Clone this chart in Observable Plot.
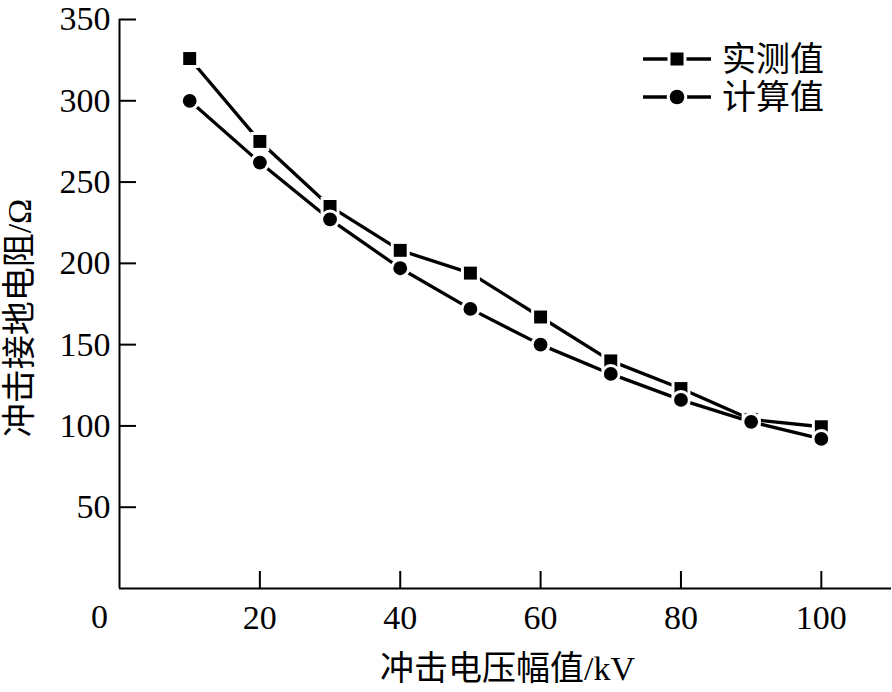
<!DOCTYPE html>
<html>
<head>
<meta charset="utf-8">
<script src="https://cdn.jsdelivr.net/npm/d3@7"></script>
<script src="https://cdn.jsdelivr.net/npm/@observablehq/plot@0.6"></script>
<style>
  html, body { margin: 0; padding: 0; background: #fff; }
  #wrap { position: relative; width: 892px; height: 692px; }
  #legend { position: absolute; left: 0; top: 0; }
</style>
</head>
<body>
<div id="wrap"><div id="chart"></div><svg id="legend" width="892" height="140"></svg></div>
<script>
const voltages = [10, 20, 30, 40, 50, 60, 70, 80, 90, 100];
const measured = [326, 275, 235, 208, 194, 167, 140, 123, 104, 99.5];
const calculated = [300, 262, 227, 197, 172, 150, 132, 116, 102.5, 92];
const seriesNames = ["实测值", "计算值"];
const xTicks = [20, 40, 60, 80, 100];
const yTicks = [50, 100, 150, 200, 250, 300, 350];
const xTitle = "冲击电压幅值/kV";
const yTitle = "冲击接地电阻/Ω";

const measuredData = voltages.map((v, i) => ({x: v, y: measured[i]}));
const calculatedData = voltages.map((v, i) => ({x: v, y: calculated[i]}));

const FONT = "'Liberation Serif', 'Noto Sans CJK SC', serif";

const chart = Plot.plot({
  width: 892,
  height: 692,
  marginLeft: 119,
  marginRight: 1,
  marginTop: 19,
  marginBottom: 104,
  style: {fontFamily: FONT, fontSize: "34px", color: "#000", background: "#fff"},
  x: {domain: [0, 110], label: null},
  y: {domain: [0, 350], label: null},
  marks: [
    Plot.ruleX([0], {strokeWidth: 2}),
    Plot.ruleY([0], {strokeWidth: 2}),
    Plot.ruleX(xTicks, {insetTop: 552, strokeWidth: 2}),
    Plot.ruleY(yTicks, {insetRight: 755, strokeWidth: 2}),
    Plot.axisX({ticks: xTicks, tickSize: 0, tickPadding: 16, label: null, fontSize: 34}),
    Plot.axisY({ticks: yTicks, tickSize: 0, tickPadding: 9, label: null, fontSize: 34}),
    Plot.text(["0"], {x: 0, y: 0, text: d => d, dx: -20, dy: 29, fontSize: 34}),
    Plot.text([xTitle], {frameAnchor: "bottom", text: d => d, textAnchor: "middle", lineAnchor: "middle", dx: 2, dy: 81, fontSize: 34}),
    Plot.text([yTitle], {frameAnchor: "left", text: d => d, textAnchor: "middle", lineAnchor: "middle", rotate: -90, dx: -99, dy: 14, fontSize: 34}),
    Plot.line(measuredData, {x: "x", y: "y", stroke: "#000", strokeWidth: 3.3}),
    Plot.line(calculatedData, {x: "x", y: "y", stroke: "#000", strokeWidth: 3.3}),
    Plot.dot(measuredData, {x: "x", y: "y", symbol: "square", r: 7.3, fill: "#000", stroke: "#fff", strokeWidth: 6, paintOrder: "stroke"}),
    Plot.dot(calculatedData, {x: "x", y: "y", symbol: "circle", r: 6.9, fill: "#000", stroke: "#fff", strokeWidth: 6, paintOrder: "stroke"})
  ]
});
document.getElementById("chart").appendChild(chart);

// Legend
const lg = d3.select("#legend");
const rows = [{name: seriesNames[0], sym: "square", y: 59}, {name: seriesNames[1], sym: "circle", y: 97}];
rows.forEach(r => {
  lg.append("line").attr("x1", 643).attr("x2", 711).attr("y1", r.y).attr("y2", r.y)
    .attr("stroke", "#000").attr("stroke-width", 3.3);
  if (r.sym === "square") {
    lg.append("rect").attr("x", 677 - 6.5).attr("y", r.y - 6.5).attr("width", 13).attr("height", 13)
      .attr("fill", "#000").attr("stroke", "#fff").attr("stroke-width", 6).attr("paint-order", "stroke");
  } else {
    lg.append("circle").attr("cx", 677).attr("cy", r.y).attr("r", 7.3)
      .attr("fill", "#000").attr("stroke", "#fff").attr("stroke-width", 6).attr("paint-order", "stroke");
  }
  lg.append("text").attr("x", 722).attr("y", r.y).attr("dy", "0.35em")
    .attr("font-family", FONT).attr("font-size", 34).attr("fill", "#000").text(r.name);
});
</script>
</body>
</html>
